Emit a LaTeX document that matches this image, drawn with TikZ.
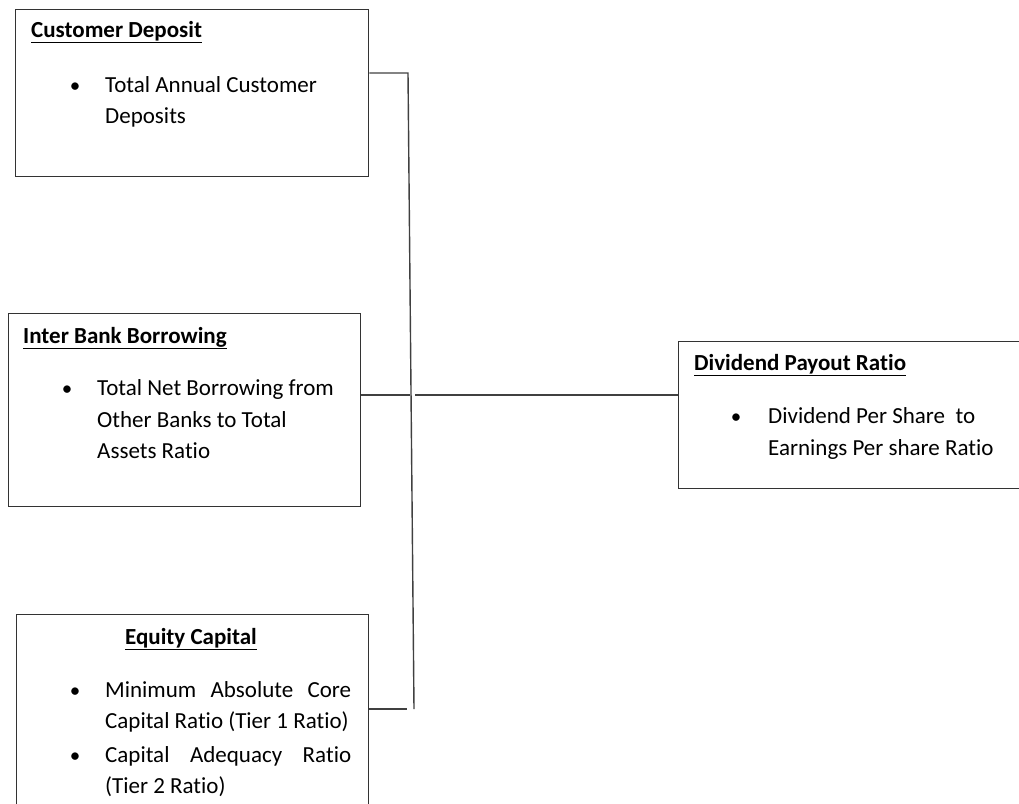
\documentclass[tikz,border=0pt]{standalone}
\usepackage{fontspec}
\setmainfont[Ligatures = NoCommon]{Carlito}
\usepackage{tikz}
\tikzset{box/.style = {shape = rectangle, draw = black!80, line width = 1.3pt, anchor = north west, inner sep = 0pt}}
\tikzset{txt/.style = {anchor = base west, inner sep = 0pt, font = \fontsize{23}{32}\selectfont}}
\tikzset{dot/.style = {anchor = base, inner sep = 0pt, font = \fontsize{21}{32}\selectfont}}
\tikzset{link/.style = {-, draw = black!75, line width = 1.4pt}}
\newcommand{\heading}[1]{\underline{\textbf{#1}}}

\begin{document}
\begin{tikzpicture}[x = 1pt, y = -1pt]
				\useasboundingbox (0, 0) rectangle (1019, 803);

				\node[box, minimum width = 353pt, minimum height = 167pt] (cust) at (15, 9) {};
				\node[box, minimum width = 352pt, minimum height = 193pt] (inter) at (8, 313) {};
				\node[box, minimum width = 352pt, minimum height = 220pt] (equity) at (16, 614) {};
				\node[box, minimum width = 360pt, minimum height = 147pt] (payout) at (678, 341) {};

				\node[txt] (custh) at (31, 37) {\heading{Customer Deposit}};
				\node[dot] (custb) at (75, 92) {•};
				\node[txt] (cust1) at (105, 92) {Total Annual Customer};
				\node[txt] (cust2) at (105, 123) {Deposits};

				\node[txt] (interh) at (23, 343) {\heading{Inter Bank Borrowing}};
				\node[dot] (interb) at (67, 395) {•};
				\node[txt] (inter1) at (97, 395) {Total Net Borrowing from};
				\node[txt] (inter2) at (97, 427) {Other Banks to Total};
				\node[txt] (inter3) at (97, 458) {Assets Ratio};

				\node[txt, anchor = base] (equityh) at (191, 644) {\heading{Equity Capital}};
				\node[dot] (equityb1) at (75, 697) {•};
				\node[txt] (equity1) at (105, 697) {\makebox[246pt][s]{Minimum Absolute Core}};
				\node[txt] (equity2) at (105, 728) {Capital Ratio (Tier 1 Ratio)};
				\node[dot] (equityb2) at (75, 762) {•};
				\node[txt] (equity3) at (105, 762) {\makebox[246pt][s]{Capital Adequacy Ratio}};
				\node[txt] (equity4) at (105, 793) {(Tier 2 Ratio)};

				\node[txt] (payouth) at (694, 370) {\heading{Dividend Payout Ratio}};
				\node[dot] (payoutb) at (736, 423) {•};
				\node[txt] (payout1) at (768, 423) {Dividend Per Share\ \ to};
				\node[txt] (payout2) at (768, 455) {Earnings Per share Ratio};

				\coordinate (top) at (408, 73);
				\coordinate (bot) at (414, 709);
				\coordinate (mid) at (410, 395);
				\coordinate (gap) at (415, 395);
				\coordinate (endb) at (407, 709);

				\draw[link] (cust.east |- top) to (top) to (bot);
				\draw[link] (inter.east |- mid) to (mid);
				\draw[link] (gap) to (payout.west |- gap);
				\draw[link] (equity.east |- endb) to (endb);
			\end{tikzpicture}
\end{document}
